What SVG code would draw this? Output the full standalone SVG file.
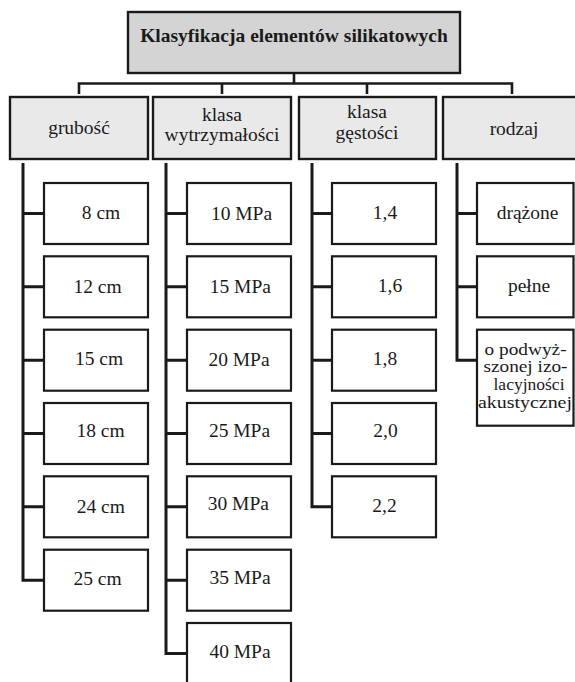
<svg xmlns="http://www.w3.org/2000/svg" width="575" height="682" viewBox="0 0 575 682">
<style>
text{font-family:"Liberation Serif","Times New Roman",serif;font-size:19.5px;fill:#1a1a1a;text-anchor:middle}
.title{font-weight:bold}
.small{font-size:16px}
.top{fill:#d4d4d4;stroke:#1a1a1a;stroke-width:2.4}
.cat{fill:#e9e9e9;stroke:#1a1a1a;stroke-width:2.4}
.box{fill:#ffffff;stroke:#1a1a1a;stroke-width:2.2}
.con{fill:none;stroke:#1a1a1a;stroke-width:3;stroke-linejoin:miter}
.bus{fill:none;stroke:#1a1a1a;stroke-width:2.6}
</style>
<rect width="575" height="682" fill="#ffffff"/>
<g id="connectors">
<path class="bus" d="M294,73 V83.5 M79,94 V83.5 H512 V94 M222,83.5 V94 M367,83.5 V94"/>
<path class="con" d="M23,163 V580.2 H44 M23,213.5 H44 M23,286.8 H44 M23,360.2 H44 M23,433.5 H44 M23,506.8 H44"/>
<path class="con" d="M166,163 V653.5 H187 M166,213.5 H187 M166,286.8 H187 M166,360.2 H187 M166,433.5 H187 M166,506.8 H187 M166,580.2 H187"/>
<path class="con" d="M312,163 V506.8 H332 M312,213.5 H332 M312,286.8 H332 M312,360.2 H332 M312,433.5 H332"/>
<path class="con" d="M457,163 V360.2 H477 M457,213.5 H477 M457,286.8 H477"/>
</g>
<g id="root"><rect class="top" x="128" y="12" width="332" height="61"/><text class="title" x="294" y="42">Klasyfikacja elementów silikatowych</text></g>
<g id="cat-grubosc"><rect class="cat" x="10" y="97" width="138" height="62"/><text x="79" y="134">grubość</text></g>
<g id="cat-wytrzymalosc"><rect class="cat" x="153" y="97" width="138" height="62"/><text x="222" y="121">klasa<tspan x="222" y="141">wytrzymałości</tspan></text></g>
<g id="cat-gestosc"><rect class="cat" x="299" y="97" width="137" height="62"/><text x="367" y="118">klasa<tspan x="367" y="139">gęstości</tspan></text></g>
<g id="cat-rodzaj"><rect class="cat" x="443" y="97" width="140" height="62"/><text x="514" y="135">rodzaj</text></g>

<g id="g-8"><rect class="box" x="44" y="183" width="104" height="61"/><text x="101" y="218.5">8 cm</text></g>
<g id="g-12"><rect class="box" x="44" y="256.3" width="104" height="61"/><text x="97.5" y="292.5">12 cm</text></g>
<g id="g-15"><rect class="box" x="44" y="329.7" width="104" height="61"/><text x="99" y="365.3">15 cm</text></g>
<g id="g-18"><rect class="box" x="44" y="403" width="104" height="61"/><text x="100.5" y="437">18 cm</text></g>
<g id="g-24"><rect class="box" x="44" y="476.3" width="104" height="61"/><text x="100.8" y="512.5">24 cm</text></g>
<g id="g-25"><rect class="box" x="44" y="549.7" width="104" height="61"/><text x="97.5" y="585">25 cm</text></g>

<g id="w-10"><rect class="box" x="187" y="183" width="104" height="61"/><text x="241.5" y="220">10 MPa</text></g>
<g id="w-15"><rect class="box" x="187" y="256.3" width="104" height="61"/><text x="240.3" y="293">15 MPa</text></g>
<g id="w-20"><rect class="box" x="187" y="329.7" width="104" height="61"/><text x="239" y="365.5">20 MPa</text></g>
<g id="w-25"><rect class="box" x="187" y="403" width="104" height="61"/><text x="239.5" y="437">25 MPa</text></g>
<g id="w-30"><rect class="box" x="187" y="476.3" width="104" height="61"/><text x="238.3" y="510">30 MPa</text></g>
<g id="w-35"><rect class="box" x="187" y="549.7" width="104" height="61"/><text x="240" y="584">35 MPa</text></g>
<g id="w-40"><rect class="box" x="187" y="623" width="104" height="61"/><text x="240" y="658">40 MPa</text></g>

<g id="d-14"><rect class="box" x="332" y="183" width="104" height="61"/><text x="385" y="219">1,4</text></g>
<g id="d-16"><rect class="box" x="332" y="256.3" width="104" height="61"/><text x="390" y="292">1,6</text></g>
<g id="d-18"><rect class="box" x="332" y="329.7" width="104" height="61"/><text x="385" y="365">1,8</text></g>
<g id="d-20"><rect class="box" x="332" y="403" width="104" height="61"/><text x="385.5" y="437">2,0</text></g>
<g id="d-22"><rect class="box" x="332" y="476.3" width="104" height="61"/><text x="384.5" y="511.5">2,2</text></g>

<g id="r-drazone"><rect class="box" x="477" y="183" width="96.5" height="61"/><text x="527.5" y="219">drążone</text></g>
<g id="r-pelne"><rect class="box" x="477" y="256.3" width="96.5" height="61"/><text x="529" y="292">pełne</text></g>
<g id="r-akust"><rect class="box" x="477" y="329.7" width="96.5" height="96"/>
<text class="small" x="525.6" y="354.5" textLength="82" lengthAdjust="spacingAndGlyphs">o podwyż-</text>
<text class="small" x="525.5" y="372.2" textLength="84" lengthAdjust="spacingAndGlyphs">szonej izo-</text>
<text class="small" x="529" y="389.9" textLength="71" lengthAdjust="spacingAndGlyphs">lacyjności</text>
<text class="small" x="525" y="407.6" textLength="94" lengthAdjust="spacingAndGlyphs">akustycznej</text>
</g>
</svg>
